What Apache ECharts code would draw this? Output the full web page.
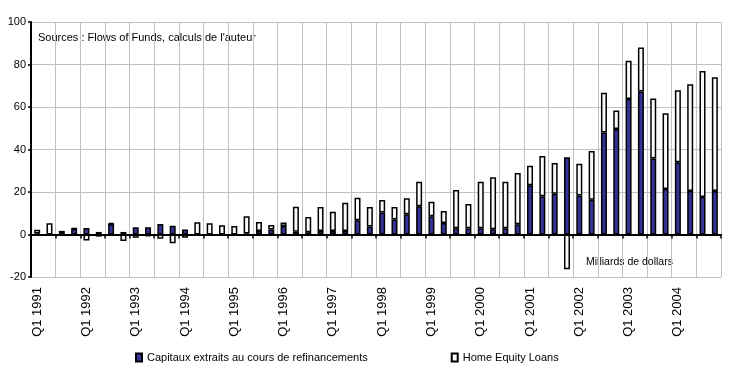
<!DOCTYPE html>
<html>
<head>
<meta charset="utf-8">
<script src="https://cdn.jsdelivr.net/npm/echarts@6/dist/echarts.min.js"></script>
<style>
html,body{margin:0;padding:0;background:#fff;}
#chart{width:729px;height:375px;}
</style>
</head>
<body>
<div id="chart"></div>
<script>
// Quarters Q1 1991 .. Q4 2004
const years = [1991,1992,1993,1994,1995,1996,1997,1998,1999,2000,2001,2002,2003,2004];
const categories = [];
years.forEach(y => { for (let q = 1; q <= 4; q++) categories.push('Q' + q + ' ' + y); });

const seriesNames = ['Capitaux extraits au cours de refinancements', 'Home Equity Loans'];

// Milliards de dollars
const capitauxExtraits = [
  0.5, 0, 0.3, 2.7, 3.1, 1.2, 5, 1.2,
  3.4, 3.4, 5, 4.1, 2.4, 0, 0, 0,
  0, 0.5, 1.6, 2.4, 4, 1.3, 1.1, 1.6,
  1.6, 1.6, 6.7, 3.8, 10.3, 7.1, 9.5, 13.3,
  8.6, 5.4, 3, 2.9, 3, 2.5, 3, 4.8,
  23.2, 18, 19.2, 36.3, 18.3, 16.3, 48, 49.6,
  63.8, 67.3, 35.8, 21.4, 34, 20.5, 17.7, 20.5
];
const homeEquityLoans = [
  1.7, 5.3, 1.4, 0.2, -2.8, -1.0, 0.3, -3.0,
  -1.5, -0.9, -2.0, -4.1, -1.5, 5.8, 5.3, 4.3,
  4.0, 8.1, 4.3, 2.1, 1.6, 11.8, 7.1, 11.4,
  9.1, 13.4, 10.6, 9.2, 5.9, 5.9, 7.6, 11.5,
  6.8, 5.7, 18, 11.5, 21.8, 24.5, 21.8, 24.2,
  9.1, 19, 14.4, -16.4, 15, 23, 18.7, 8.8,
  18, 20.7, 28.2, 35.7, 33.9, 50.2, 59.3, 53.5
];

const yTicks = { min: -20, max: 100, interval: 20 };
const sourceText = "Sources : Flows of Funds, calculs de l'auteur";
const unitText = 'Milliards de dollars';

const FONT = '"Liberation Sans", Arial, sans-serif';
const chart = echarts.init(document.getElementById('chart'), null, { renderer: 'canvas' });

chart.setOption({
  animation: false,
  backgroundColor: '#ffffff',
  textStyle: { fontFamily: FONT },
  grid: { left: 31, right: 8, top: 22, bottom: 98, containLabel: false, outerBoundsMode: 'none' },
  legend: {
    data: seriesNames,
    left: 130,
    top: 347,
    itemWidth: 6,
    itemHeight: 8,
    itemGap: 83,
    icon: 'rect',
    textStyle: { fontFamily: FONT, fontSize: 11, color: '#000' }
  },
  xAxis: [
    {
      type: 'category',
      data: categories,
      position: 'bottom',
      boundaryGap: true,
      axisLine: { show: false, onZero: false },
      axisTick: { show: false },
      axisLabel: {
        interval: 3,
        rotate: 90,
        margin: 10,
        fontFamily: FONT,
        fontSize: 13,
        color: '#000'
      },
      splitLine: { show: true, interval: 1, lineStyle: { color: '#c0c0c0', width: 1 } }
    },
    {
      type: 'category',
      data: categories,
      position: 'bottom',
      boundaryGap: true,
      axisLine: { show: true, onZero: true, lineStyle: { color: '#000', width: 2 } },
      axisTick: { show: true, interval: 1, length: 4, lineStyle: { color: '#000', width: 1.5 } },
      axisLabel: { show: false },
      splitLine: { show: false }
    }
  ],
  yAxis: {
    type: 'value',
    min: yTicks.min,
    max: yTicks.max,
    interval: yTicks.interval,
    axisLine: { show: true, lineStyle: { color: '#000', width: 2 } },
    axisTick: { show: true, length: 3, lineStyle: { color: '#000', width: 1.5 } },
    axisLabel: { margin: 5, fontFamily: FONT, fontSize: 11, color: '#000' },
    splitLine: { show: true, lineStyle: { color: '#c0c0c0', width: 1 } }
  },
  series: [
    {
      name: seriesNames[0],
      type: 'bar',
      stack: 'total',
      xAxisIndex: 0,
      barWidth: 6,
      data: capitauxExtraits,
      itemStyle: { color: '#333399', borderColor: '#000', borderWidth: 1.5 }
    },
    {
      name: seriesNames[1],
      type: 'bar',
      stack: 'total',
      xAxisIndex: 0,
      barWidth: 6,
      data: homeEquityLoans,
      itemStyle: { color: '#f7fbff', borderColor: '#000', borderWidth: 1.5 }
    }
  ],
  graphic: [
    {
      type: 'text',
      left: 38,
      top: 32,
      style: { text: sourceText, font: '11px ' + FONT, fill: '#000' }
    },
    {
      type: 'text',
      left: 586,
      top: 257,
      style: { text: unitText, font: '10.5px ' + FONT, fill: '#000' }
    }
  ]
});
</script>
</body>
</html>
